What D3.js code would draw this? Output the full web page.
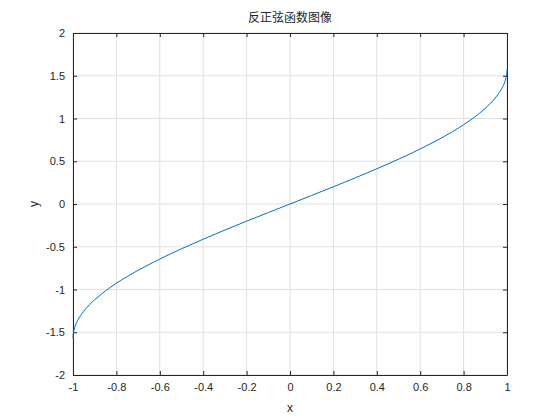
<!DOCTYPE html>
<html><head><meta charset="utf-8">
<script src="https://cdn.jsdelivr.net/npm/d3@7"></script>
<style>body{margin:0;background:#fff}svg{display:block}</style>
</head><body>
<script>
const xVals=[-1,-0.999,-0.995,-0.99,-0.98,-0.95,-0.9,-0.85,-0.8,-0.75,-0.7,-0.65,-0.6,-0.55,-0.5,-0.45,-0.4,-0.35,-0.3,-0.25,-0.2,-0.15,-0.1,-0.05,0,0.05,0.1,0.15,0.2,0.25,0.3,0.35,0.4,0.45,0.5,0.55,0.6,0.65,0.7,0.75,0.8,0.85,0.9,0.95,0.98,0.99,0.995,0.999,1];
const yVals=[-1.571,-1.526,-1.471,-1.429,-1.370,-1.253,-1.120,-1.016,-0.927,-0.848,-0.775,-0.708,-0.644,-0.582,-0.524,-0.467,-0.412,-0.358,-0.305,-0.253,-0.201,-0.151,-0.100,-0.050,0,0.050,0.100,0.151,0.201,0.253,0.305,0.358,0.412,0.467,0.524,0.582,0.644,0.708,0.775,0.848,0.927,1.016,1.120,1.253,1.370,1.429,1.471,1.526,1.571];
const xTicks=[-1,-0.8,-0.6,-0.4,-0.2,0,0.2,0.4,0.6,0.8,1];
const yTicks=[-2,-1.5,-1,-0.5,0,0.5,1,1.5,2];
const titleText="反正弦函数图像", xLabel="x", yLabel="y";

const W=560,H=420,L=73,R=507,T=33,B=375;
const svg=d3.select("body").append("svg").attr("width",W).attr("height",H);
const x=d3.scaleLinear().domain([-1,1]).range([L,R]);
const y=d3.scaleLinear().domain([-2,2]).range([B,T]);
const font="Liberation Sans, Arial, sans-serif";
const g=svg.append("g");
g.selectAll(".gx").data(xTicks).join("line").attr("x1",d=>x(d)).attr("x2",d=>x(d)).attr("y1",T).attr("y2",B).attr("stroke","#dfdfdf");
g.selectAll(".gy").data(yTicks).join("line").attr("y1",d=>y(d)).attr("y2",d=>y(d)).attr("x1",L).attr("x2",R).attr("stroke","#dfdfdf");
const fmt=d=>String(d);
const ax=svg.append("g").attr("transform",`translate(0,${B})`).call(d3.axisBottom(x).tickValues(xTicks).tickFormat(fmt).tickSizeInner(-4).tickSizeOuter(0).tickPadding(8));
const ay=svg.append("g").attr("transform",`translate(${L},0)`).call(d3.axisLeft(y).tickValues(yTicks).tickFormat(fmt).tickSizeInner(-4).tickSizeOuter(0).tickPadding(8));
svg.append("g").attr("transform",`translate(0,${T})`).call(d3.axisTop(x).tickValues(xTicks).tickFormat("").tickSizeInner(-4).tickSizeOuter(0));
svg.append("g").attr("transform",`translate(${R},0)`).call(d3.axisRight(y).tickValues(yTicks).tickFormat("").tickSizeInner(-4).tickSizeOuter(0));
svg.selectAll(".domain").attr("stroke","#262626");
svg.selectAll(".tick line").attr("stroke","#262626");
svg.selectAll(".tick text").attr("font-family",font).attr("font-size",11).attr("fill","#262626");
svg.append("path").datum(xVals.map((v,i)=>[v,yVals[i]])).attr("fill","none").attr("stroke","#0072BD").attr("stroke-width",1)
 .attr("d",d3.line().x(d=>x(d[0])).y(d=>y(d[1])).curve(d3.curveMonotoneX));
svg.append("text").attr("x",(L+R)/2).attr("y",22).attr("text-anchor","middle").attr("font-family","Noto Sans CJK SC").attr("font-size",12).attr("fill","#262626").text(titleText);
svg.append("text").attr("x",(L+R)/2).attr("y",412).attr("text-anchor","middle").attr("font-family",font).attr("font-size",12).attr("fill","#262626").text(xLabel);
svg.append("text").attr("transform",`translate(38,${(T+B)/2}) rotate(-90)`).attr("text-anchor","middle").attr("font-family",font).attr("font-size",12).attr("fill","#262626").text(yLabel);
</script>
</body></html>
